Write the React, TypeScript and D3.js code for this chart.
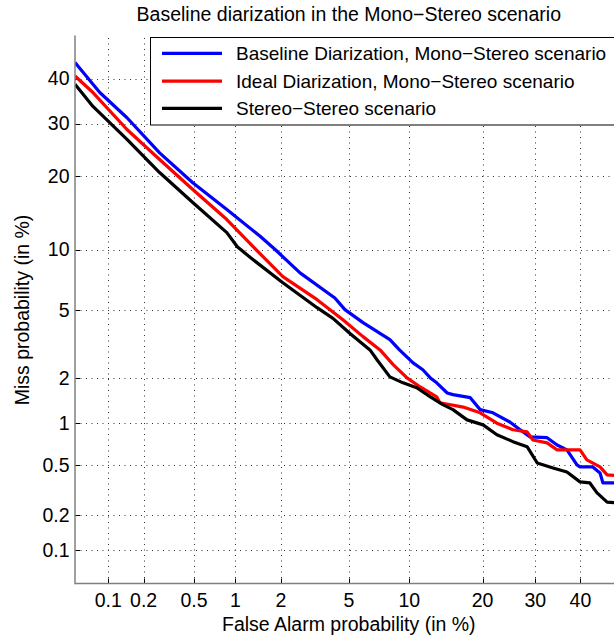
import React from 'react';
import * as d3 from 'd3';

// ---- data (percent) ----
const xTicks = [0.1, 0.2, 0.5, 1, 2, 5, 10, 20, 30, 40];
const yTicks = [0.1, 0.2, 0.5, 1, 2, 5, 10, 20, 30, 40];
const axisLimits = [0.05, 50];

const seriesNames = [
  'Baseline Diarization, Mono\u2212Stereo scenario',
  'Ideal Diarization, Mono\u2212Stereo scenario',
  'Stereo\u2212Stereo scenario',
];
const seriesColors = ['#0000ff', '#ff0000', '#000000'];

const baselineFA = [0.05, 0.084, 0.145, 0.27, 0.49, 0.87, 1.47, 1.84, 2.63, 4.19, 4.76, 5.94, 8.1, 9.0, 10.4, 11.5, 12.4, 13.2, 14.6, 15.4, 18.0, 19.6, 21.8, 24.9, 26.9, 28.9, 32.5, 34.7, 36.9, 39.2, 39.9, 42.9, 44.6, 45.3, 50];
const baselineMiss = [43.8, 36.8, 31.25, 24.2, 18.95, 14.9, 11.47, 10.0, 7.75, 5.79, 5.02, 4.26, 3.41, 2.97, 2.48, 2.25, 2.0, 1.86, 1.6, 1.56, 1.49, 1.24, 1.18, 1.02, 0.9, 0.8, 0.79, 0.7, 0.645, 0.498, 0.481, 0.481, 0.433, 0.362, 0.362];

const idealFA = [0.05, 0.073, 0.145, 0.27, 0.49, 0.87, 1.32, 2.06, 3.32, 4.64, 5.94, 7.25, 8.4, 9.76, 11.2, 13.2, 13.6, 16.9, 19.6, 22.5, 25.5, 28.3, 29.5, 32.5, 34.7, 39.9, 41.5, 44.6, 46.3, 50];
const idealMiss = [40.6, 36.8, 28.8, 22.97, 17.86, 13.54, 10.3, 7.43, 5.67, 4.42, 3.55, 2.97, 2.42, 2.0, 1.75, 1.51, 1.38, 1.29, 1.18, 1.0, 0.9, 0.87, 0.76, 0.725, 0.645, 0.645, 0.543, 0.481, 0.418, 0.41];

const stereoFA = [0.05, 0.073, 0.145, 0.27, 0.49, 0.87, 1.03, 1.26, 2.06, 3.32, 4.09, 5.07, 6.45, 7.0, 8.1, 9.35, 10.8, 12.4, 14.0, 15.4, 17.5, 20.1, 22.5, 25.5, 28.3, 30.4, 33.8, 36.9, 39.9, 42.2, 43.9, 46.3, 50];
const stereoMiss = [38.7, 33.7, 26.8, 20.66, 15.9, 11.9, 10.3, 9.2, 6.93, 5.14, 4.5, 3.7, 2.97, 2.59, 2.03, 1.86, 1.73, 1.51, 1.34, 1.24, 1.055, 0.974, 0.83, 0.74, 0.68, 0.515, 0.472, 0.44, 0.369, 0.362, 0.302, 0.255, 0.25];

// ---- inverse normal CDF (Acklam) ----
function probit(p: number): number {
  const a = [-3.969683028665376e1, 2.209460984245205e2, -2.759285104469687e2, 1.38357751867269e2, -3.066479806614716e1, 2.506628277459239];
  const b = [-5.447609879822406e1, 1.615858368580409e2, -1.556989798598866e2, 6.680131188771972e1, -1.328068155288572e1];
  const c = [-7.784894002430293e-3, -3.223964580411365e-1, -2.400758277161838, -2.549732539343734, 4.374664141464968, 2.938163982698783];
  const d = [7.784695709041462e-3, 3.224671290700398e-1, 2.445134137142996, 3.754408661907416];
  const plow = 0.02425;
  if (p < plow) {
    const q = Math.sqrt(-2 * Math.log(p));
    return (((((c[0] * q + c[1]) * q + c[2]) * q + c[3]) * q + c[4]) * q + c[5]) /
      ((((d[0] * q + d[1]) * q + d[2]) * q + d[3]) * q + 1);
  }
  if (p <= 1 - plow) {
    const q = p - 0.5;
    const r = q * q;
    return (((((a[0] * r + a[1]) * r + a[2]) * r + a[3]) * r + a[4]) * r + a[5]) * q /
      (((((b[0] * r + b[1]) * r + b[2]) * r + b[3]) * r + b[4]) * r + 1);
  }
  const q = Math.sqrt(-2 * Math.log(1 - p));
  return -(((((c[0] * q + c[1]) * q + c[2]) * q + c[3]) * q + c[4]) * q + c[5]) /
    ((((d[0] * q + d[1]) * q + d[2]) * q + d[3]) * q + 1);
}

const W = 614;
const H = 639;
const left = 75;
const right = 622.6;
const top = 36.5;
const bottom = 583.5;
const FONT = '"Liberation Sans", Arial, Helvetica, sans-serif';
const FS = 19.5;
const LEGEND_FS = 19;

export default function App() {
  const x = d3.scaleLinear().domain([probit(axisLimits[0] / 100), probit(axisLimits[1] / 100)]).range([left, right]);
  const y = d3.scaleLinear().domain([probit(axisLimits[0] / 100), probit(axisLimits[1] / 100)]).range([bottom, top]);

  const series = [
    { fa: baselineFA, miss: baselineMiss },
    { fa: idealFA, miss: idealMiss },
    { fa: stereoFA, miss: stereoMiss },
  ];

  const line = d3
    .line<[number, number]>()
    .x((d) => x(probit(d[0] / 100)))
    .y((d) => y(probit(d[1] / 100)));

  const legendTop = 37.5;
  const legendRows = [53.3, 81.2, 108.3];

  return (
    <svg width={W} height={H} style={{ position: 'absolute', left: 0, top: 0, background: '#fff' }} fontFamily={FONT}>
      <defs>
        <clipPath id="plotclip">
          <rect x={left} y={top} width={right - left} height={bottom - top} />
        </clipPath>
      </defs>
      <rect x={0} y={0} width={W} height={H} fill="#fff" />
      {/* grid */}
      <g stroke="#333" strokeWidth={1} strokeDasharray="1 4.5">
        {xTicks.map((t) => (
          <line key={'gx' + t} x1={Math.round(x(probit(t / 100))) + 0.5} x2={Math.round(x(probit(t / 100))) + 0.5} y1={bottom} y2={top} />
        ))}
        {yTicks.map((t) => (
          <line key={'gy' + t} x1={left} x2={right} y1={Math.round(y(probit(t / 100))) + 0.5} y2={Math.round(y(probit(t / 100))) + 0.5} />
        ))}
      </g>
      {/* ticks */}
      <g stroke="#000" strokeWidth={1}>
        {xTicks.map((t) => (
          <line key={'tx' + t} x1={Math.round(x(probit(t / 100))) + 0.5} x2={Math.round(x(probit(t / 100))) + 0.5} y1={bottom} y2={bottom - 5} />
        ))}
        {yTicks.map((t) => (
          <line key={'ty' + t} x1={left} x2={left + 5} y1={Math.round(y(probit(t / 100))) + 0.5} y2={Math.round(y(probit(t / 100))) + 0.5} />
        ))}
      </g>
      {/* curves */}
      <g clipPath="url(#plotclip)" fill="none" strokeWidth={3.2} strokeLinejoin="round">
        {series.map((s, i) => (
          <path key={'s' + i} d={line(s.fa.map((v, k) => [v, s.miss[k]] as [number, number])) || ''} stroke={seriesColors[i]} />
        ))}
      </g>
      {/* axes lines */}
      <g stroke="#808080" strokeWidth={1.5}>
        <line x1={left} x2={left} y1={top - 1} y2={bottom + 0.75} />
        <line x1={left} x2={right} y1={bottom} y2={bottom} />
      </g>
      {/* tick labels */}
      <g fontSize={FS} fill="#000">
        {xTicks.map((t) => (
          <text key={'lx' + t} x={x(probit(t / 100))} y={606.5} textAnchor="middle">
            {String(t)}
          </text>
        ))}
        {yTicks.map((t) => (
          <text key={'ly' + t} x={69.5} y={y(probit(t / 100))} dy="0.35em" textAnchor="end">
            {String(t)}
          </text>
        ))}
      </g>
      {/* axis titles */}
      <text x={(left + right) / 2} y={631} fontSize={FS} textAnchor="middle" fill="#000">
        False Alarm probability (in %)
      </text>
      <text transform={`translate(28.5, ${(top + bottom) / 2}) rotate(-90)`} fontSize={FS} textAnchor="middle" fill="#000">
        Miss probability (in %)
      </text>
      <text x={(left + right) / 2} y={20.5} fontSize={FS} textAnchor="middle" fill="#000">
        Baseline diarization in the Mono{'\u2212'}Stereo scenario
      </text>
      {/* legend */}
      <g>
        <rect x={150.5} y={legendTop} width={480} height={125 - legendTop} fill="#fff" stroke="#000" strokeWidth={1} />
        {seriesNames.map((n, i) => (
          <g key={'lg' + i}>
            <line x1={162} x2={222} y1={legendRows[i]} y2={legendRows[i]} stroke={seriesColors[i]} strokeWidth={3.2} />
            <text x={236} y={legendRows[i]} dy="0.35em" fontSize={LEGEND_FS} fill="#000">
              {n}
            </text>
          </g>
        ))}
      </g>
    </svg>
  );
}
